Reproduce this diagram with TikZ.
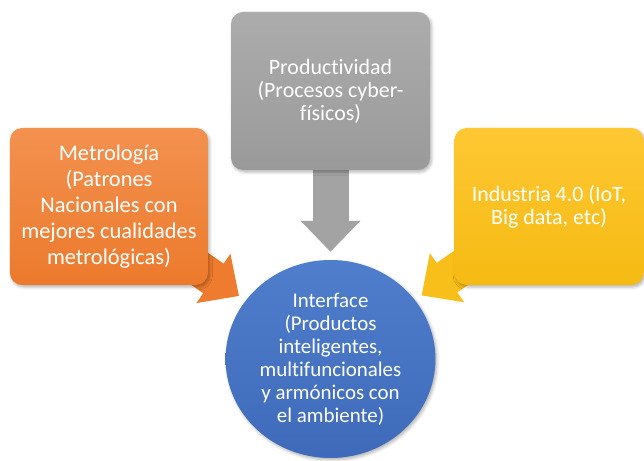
\documentclass[tikz,border=0pt]{standalone}
\usepackage{fontspec}
\setmainfont{Carlito}[Ligatures=NoCommon]
\usetikzlibrary{arrows.meta,shapes.geometric,shadows.blur,backgrounds}
\definecolor{orangetop}{HTML}{F3914F}
\definecolor{orangebot}{HTML}{EC7A2C}
\definecolor{orangearr}{HTML}{EE7B2E}
\definecolor{graytop}{HTML}{ACACAC}
\definecolor{graybot}{HTML}{9A9A9A}
\definecolor{grayarr}{HTML}{A3A3A3}
\definecolor{yellowtop}{HTML}{FFC833}
\definecolor{yellowbot}{HTML}{F5BA12}
\definecolor{yellowarr}{HTML}{F8BE1A}
\definecolor{bluetop}{HTML}{4F7ECD}
\definecolor{bluebot}{HTML}{3E6AB9}

\tikzset{
  soft/.style={blur shadow={shadow xshift=1.5bp,shadow yshift=-2bp,shadow opacity=30,shadow blur radius=3bp}},
  card/.style={soft,rounded corners=12bp,minimum height=157bp,align=center,text=white},
  flow/.style={line width=36bp,-{Triangle[length=31bp,width=58bp]},shorten >=8bp},
}

\begin{document}
\begin{tikzpicture}[x=1bp,y=-1bp]
\useasboundingbox (0,0) rectangle (644,461);
\node[card,minimum width=198bp,top color=orangetop,bottom color=orangebot,font=\fontsize{22.5}{26}\selectfont] (metro) at (109,206.5) {Metrología\\(Patrones\\Nacionales con\\mejores cualidades\\metrológicas)};
\node[card,minimum width=199bp,minimum height=158bp,top color=graytop,bottom color=graybot,font=\fontsize{22}{23}\selectfont] (prod) at (330.5,91) {Productividad\\(Procesos cyber-\\físicos)};
\node[card,minimum width=189bp,top color=yellowtop,bottom color=yellowbot,font=\fontsize{22}{23}\selectfont] (indus) at (549,206.5) {Industria 4.0 (IoT,\\Big data, etc)};
\node[soft,ellipse,minimum width=206bp,minimum height=198bp,top color=bluetop,bottom color=bluebot,text=white,align=center,font=\fontsize{21}{23}\selectfont] (iface) at (330.5,359) {Interface\\(Productos\\inteligentes,\\multifuncionales\\y armónicos con\\el ambiente)};
\begin{scope}[on background layer]
\draw[flow,orangearr] (metro.center) -- (iface);
\draw[flow,grayarr] (prod.center) -- (iface);
\draw[flow,yellowarr] (indus.center) -- (iface);
\end{scope}
\end{tikzpicture}
\end{document}
